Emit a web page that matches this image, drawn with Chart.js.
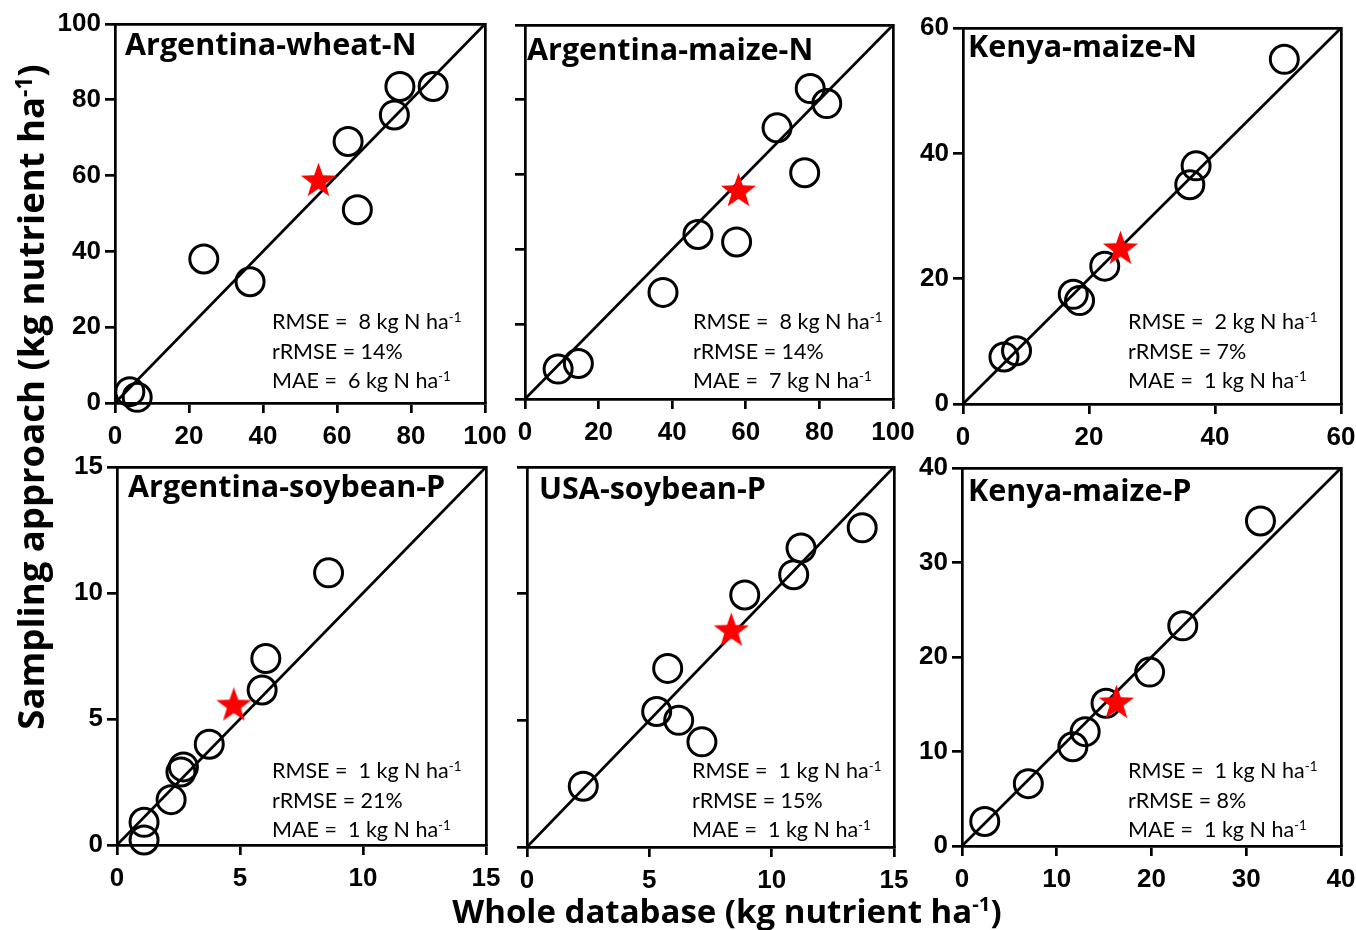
<!DOCTYPE html>
<html>
<head>
<meta charset="utf-8">
<script src="https://cdn.jsdelivr.net/npm/chart.js@4.4.0/dist/chart.umd.min.js"></script>
<style>
  body { margin: 0; background: #fff; }
  #wrap { position: relative; width: 1356px; height: 930px; overflow: hidden; background: #fff; }
  canvas { position: absolute; }
  .ptitle { position: absolute; font-family: "Open Sans", "Noto Sans", sans-serif; font-weight: 700; font-size: 30.5px; color: #000; white-space: nowrap; line-height: 1; }
  .stats { position: absolute; font-family: Lato, "Noto Sans", sans-serif; font-size: 21.5px; color: #000; white-space: pre; line-height: 29.5px; }
  .sup { font-size: 0.62em; position: relative; top: -0.55em; line-height: 0; }
  .axt { position: absolute; font-family: "Open Sans", "Noto Sans", sans-serif; font-weight: 700; color: #000; white-space: nowrap; text-align: center; line-height: 1; }
</style>
</head>
<body>
<div id="wrap"></div>
<script>
// panel names, in reading order
const panelNames = ["Argentina-wheat-N", "Argentina-maize-N", "Kenya-maize-N",
                    "Argentina-soybean-P", "USA-soybean-P", "Kenya-maize-P"];

// axis limits and tick steps (both axes share them, 1:1 plots)
const axisMax = [100, 100, 60, 15, 15, 40];
const tickStep = [20, 20, 20, 5, 5, 10];

// whole database (x) vs sampling approach (y), open circles
const wheatArgX = [4, 6, 24, 36.5, 63, 65.5, 75.5, 77, 86];
const wheatArgY = [3, 1.5, 38, 32, 69, 51, 76, 83.5, 83.5];
const maizeArgX = [9, 14.5, 37.5, 47, 57.5, 68.5, 76, 77.5, 82];
const maizeArgY = [8, 9.5, 28.5, 44, 42, 72.5, 60.5, 83, 79];
const maizeKenNX = [6.5, 8.5, 17.5, 18.5, 22.5, 36, 37, 51];
const maizeKenNY = [7.5, 8.5, 17.5, 16.5, 22, 35, 38, 55];
const soyArgX = [1.1, 1.1, 2.2, 2.6, 2.7, 3.75, 5.9, 6.05, 8.6];
const soyArgY = [0.2, 0.9, 1.8, 2.9, 3.1, 4.0, 6.15, 7.4, 10.8];
const soyUsaX = [2.3, 5.3, 5.75, 6.2, 7.15, 8.9, 10.9, 11.2, 13.7];
const soyUsaY = [2.4, 5.35, 7.05, 5.0, 4.15, 9.95, 10.75, 11.8, 12.6];
const maizeKenPX = [2.4, 7, 11.7, 13, 15.2, 19.8, 23.3, 31.5];
const maizeKenPY = [2.6, 6.6, 10.5, 12.1, 15.1, 18.4, 23.3, 34.4];

// red stars (mean values)
const starX = [55, 58, 25, 4.75, 8.35, 16.3];
const starY = [59, 56, 25, 5.6, 8.6, 15.3];

// goodness of fit labels
const rmse = ["8", "8", "2", "1", "1", "1"];
const rrmse = ["14%", "14%", "7%", "21%", "15%", "8%"];
const mae = ["6", "7", "1", "1", "1", "1"];

const seriesX = [wheatArgX, maizeArgX, maizeKenNX, soyArgX, soyUsaX, maizeKenPX];
const seriesY = [wheatArgY, maizeArgY, maizeKenNY, soyArgY, soyUsaY, maizeKenPY];

// plot area of each panel: left, top, width, height (px)
const boxes = [
  [115, 24, 370, 379], [520, 25, 373, 374], [963, 28, 378, 376],
  [117, 467, 369, 378], [522, 467, 372, 380], [962, 468, 379, 378]
];
const showYLabels = [true, false, true, true, false, true];
// title: left inset, baseline below plot top
const titlePos = [[10, 31], [7, 35], [5, 29], [11, 30], [17, 32], [6, 33]];
// stats: left inset, first baseline below plot top
const statsPos = [[157, 304], [173, 303], [165, 300], [155, 310], [170, 310], [166, 309]];

const wrap = document.getElementById("wrap");
const tickFont = { family: "'Liberation Sans', Arial, sans-serif", size: 26, weight: "bold" };
const LW = 2.7;

// filled red star used as point style
function makeStar(r) {
  const c = document.createElement("canvas");
  const s = Math.ceil(r * 2 + 2);
  c.width = s; c.height = s;
  const g = c.getContext("2d");
  g.translate(s / 2, s / 2 + r * 0.1);
  g.beginPath();
  for (let i = 0; i < 10; i++) {
    const rad = i % 2 === 0 ? r : r * 0.4;
    const a = -Math.PI / 2 + i * Math.PI / 5;
    g.lineTo(rad * Math.cos(a), rad * Math.sin(a));
  }
  g.closePath();
  g.fillStyle = "#ff0000";
  g.fill();
  return c;
}
const starImg = makeStar(18.5);

function toPoints(xs, ys) {
  return xs.map((x, i) => ({ x: x, y: ys[i] }));
}

panelNames.forEach((name, p) => {
  const [L, T, W, H] = boxes[p];
  const padL = showYLabels[p] ? 75 : 14;
  const padT = 20, padR = 30, padB = 48;
  const cv = document.createElement("canvas");
  cv.width = padL + W + padR;
  cv.height = padT + H + padB;
  cv.style.left = (L - padL) + "px";
  cv.style.top = (T - padT) + "px";
  wrap.appendChild(cv);

  const max = axisMax[p];
  const axisCommon = {
    type: "linear", min: 0, max: max,
    grid: { drawOnChartArea: false, drawTicks: true, tickLength: 10, color: "#000", lineWidth: LW },
    border: { display: true, color: "#000", width: LW }
  };
  const frameAxis = (pos) => ({
    type: "linear", position: pos, min: 0, max: max, display: true,
    ticks: { display: false }, grid: { display: false },
    border: { display: true, color: "#000", width: LW },
    afterFit: (s) => { if (pos === "top") s.height = 0; else s.width = 0; }
  });

  new Chart(cv.getContext("2d"), {
    type: "scatter",
    data: {
      datasets: [
        {
          data: [{ x: starX[p], y: starY[p] }],
          pointStyle: starImg, pointRadius: 18, clip: false
        },
        {
          data: toPoints(seriesX[p], seriesY[p]),
          pointStyle: "circle", pointRadius: 14, borderWidth: 3,
          borderColor: "#000", backgroundColor: "rgba(0,0,0,0)", clip: false
        },
        {
          type: "line",
          data: [{ x: 0, y: 0 }, { x: max, y: max }],
          borderColor: "#000", borderWidth: LW, pointRadius: 0, fill: false
        }
      ]
    },
    options: {
      responsive: false,
      animation: false,
      events: [],
      layout: { padding: { top: padT, right: padR, left: 0, bottom: 0 } },
      plugins: { legend: { display: false }, tooltip: { enabled: false } },
      scales: {
        x: Object.assign({}, axisCommon, {
          position: "bottom",
          ticks: { stepSize: tickStep[p], color: "#000", font: tickFont, padding: 8, maxRotation: 0, minRotation: 0, autoSkip: false },
          afterFit: (s) => { s.height = padB; }
        }),
        y: Object.assign({}, axisCommon, {
          position: "left",
          ticks: { display: showYLabels[p], stepSize: tickStep[p], color: "#000", font: tickFont, padding: 4, autoSkip: false },
          afterFit: (s) => { s.width = padL; }
        }),
        x2: Object.assign(frameAxis("top"), { axis: "x" }),
        y2: Object.assign(frameAxis("right"), { axis: "y" })
      }
    }
  });

  // Open Sans baseline sits 0.888em below the top of a line-height:1 box
  const t = document.createElement("div");
  t.className = "ptitle";
  t.textContent = name;
  t.style.left = (L + titlePos[p][0]) + "px";
  t.style.top = (T + titlePos[p][1] - 0.888 * 30.5) + "px";
  wrap.appendChild(t);

  const st = document.createElement("div");
  st.className = "stats";
  st.innerHTML = "RMSE =  " + rmse[p] + " kg N ha<span class=\"sup\">-1</span>\n" +
                 "rRMSE = " + rrmse[p] + "\n" +
                 "MAE =  " + mae[p] + " kg N ha<span class=\"sup\">-1</span>";
  st.style.left = (L + statsPos[p][0]) + "px";
  st.style.top = (T + statsPos[p][1] - 21) + "px";
  wrap.appendChild(st);
});

// shared axis titles
const xt = document.createElement("div");
xt.className = "axt";
xt.style.fontSize = "33px";
xt.innerHTML = "Whole database (kg nutrient ha<span class=\"sup\">-1</span>)";
xt.style.width = "800px";
xt.style.left = (727 - 400) + "px";
xt.style.top = (923 - 0.888 * 33) + "px";
wrap.appendChild(xt);

const yt = document.createElement("div");
yt.className = "axt";
yt.style.fontSize = "36.5px";
yt.innerHTML = "Sampling approach (kg nutrient ha<span class=\"sup\">-1</span>)";
yt.style.width = "800px";
yt.style.height = "40px";
yt.style.lineHeight = "40px";
yt.style.left = (30 - 400) + "px";
yt.style.top = (397 - 20) + "px";
yt.style.transform = "rotate(-90deg)";
wrap.appendChild(yt);
</script>
</body>
</html>
